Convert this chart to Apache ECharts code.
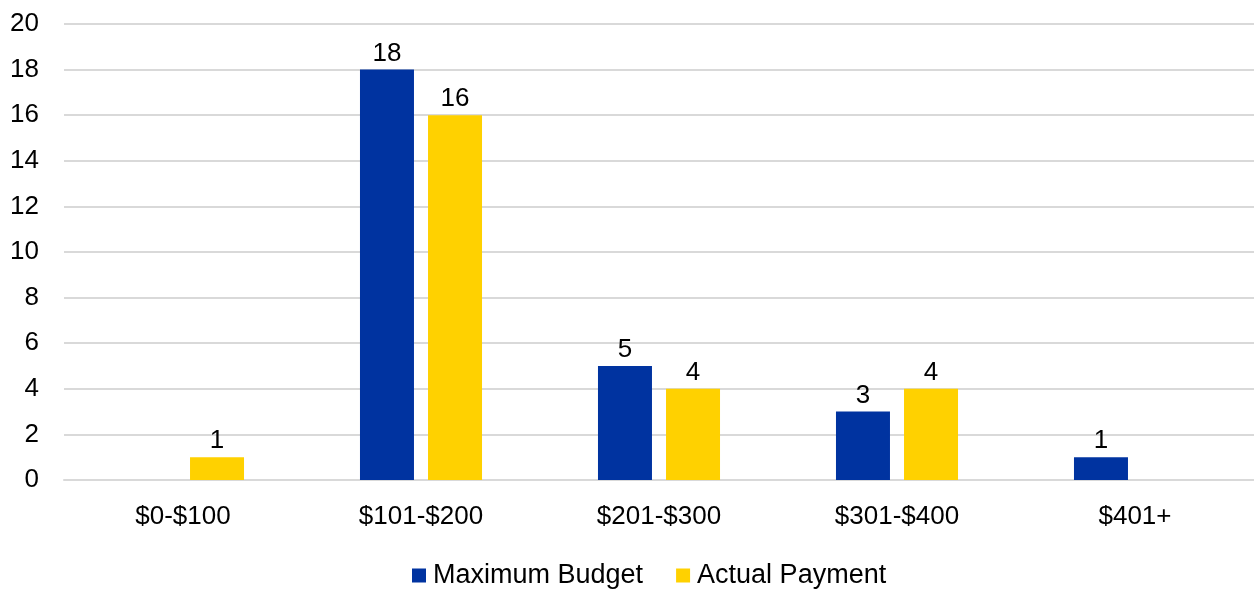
<!DOCTYPE html>
<html>
<head>
<meta charset="utf-8">
<script src="https://cdn.jsdelivr.net/npm/echarts@6/dist/echarts.min.js"></script>
<style>html,body{margin:0;padding:0;background:#fff}#c{width:1254px;height:589px}</style>
</head>
<body>
<div id="c"></div>
<script>
const categories = ['$0-$100', '$101-$200', '$201-$300', '$301-$400', '$401+'];
const maximumBudget = [null, 18, 5, 3, 1];
const actualPayment = [1, 16, 4, 4, null];
const yTicks = { min: 0, max: 20, interval: 2 };

const chart = echarts.init(document.getElementById('c'));
const font = 'Liberation Sans, Arial, sans-serif';
const labelCfg = { show: true, position: 'top', distance: 3, color: '#000', fontSize: 26, fontFamily: font };
chart.setOption({
  animation: false,
  grid: { left: 64, right: -5, top: 24, bottom: 109, containLabel: false },
  legend: {
    bottom: -5, left: 407, itemWidth: 14, itemHeight: 14, itemGap: 33,
    icon: 'rect',
    textStyle: { fontSize: 27, color: '#000', fontFamily: font, padding: [0, 0, 0, 2] },
    data: ['Maximum Budget', 'Actual Payment']
  },
  xAxis: {
    type: 'category', data: categories,
    axisLine: { show: true, lineStyle: { color: '#d9d9d9', width: 2 } },
    axisTick: { show: false },
    axisLabel: { color: '#000', fontSize: 26, fontFamily: font, margin: 24 }
  },
  yAxis: {
    type: 'value', min: yTicks.min, max: yTicks.max, interval: yTicks.interval,
    axisLine: { show: false }, axisTick: { show: false },
    axisLabel: { color: '#000', fontSize: 26, fontFamily: font, margin: 25 },
    splitLine: { lineStyle: { color: '#d9d9d9', width: 2 } }
  },
  series: [
    { name: 'Maximum Budget', type: 'bar', data: maximumBudget, barWidth: 54, barGap: '26%',
      itemStyle: { color: '#0033A0' }, label: labelCfg },
    { name: 'Actual Payment', type: 'bar', data: actualPayment, barWidth: 54, barGap: '26%',
      itemStyle: { color: '#FFD100' }, label: labelCfg }
  ]
});
</script>
</body>
</html>
